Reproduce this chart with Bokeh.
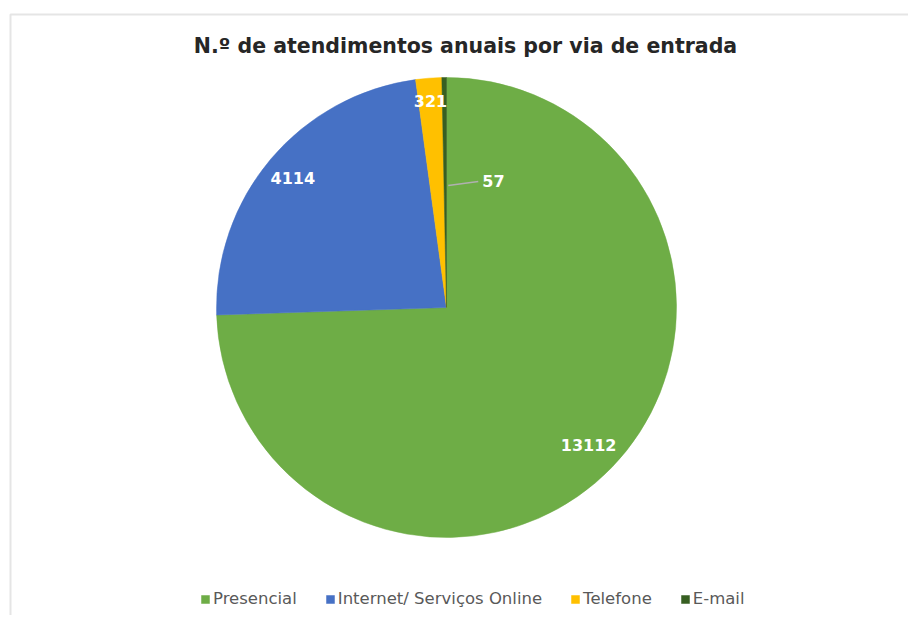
import numpy as np
from bokeh.plotting import figure
from bokeh.models import Range1d, Legend, LegendItem, Label, BoxAnnotation
from bokeh.embed import file_html
from bokeh.resources import INLINE

# ---- data ----
categories = ["Presencial", "Internet/ Serviços Online", "Telefone", "E-mail"]
values = [13112, 4114, 321, 57]
colors = ["#6EAD46", "#4671C5", "#FFC000", "#375F22"]
title_text = "N.º de atendimentos anuais por via de entrada"

# ---- layout (1 data unit == 1 screen pixel, y measured upward) ----
W, H = 908, 615
p = figure(width=W, height=H, x_range=Range1d(0, W), y_range=Range1d(0, H),
           output_backend="svg", toolbar_location=None,
           x_axis_type=None, y_axis_type=None, min_border=0)
p.grid.visible = False
p.outline_line_color = None
p.background_fill_color = "white"
p.border_fill_color = "white"

# chart border (light grey frame, open on right/bottom)
p.add_layout(BoxAnnotation(left=10, right=3000, top=H - 14, bottom=-3000,
                           fill_alpha=0, line_color="#A9A9A9", line_width=2))

cx, cy, r = 446, H - 307, 230
total = float(sum(values))
fracs = np.array(values) / total
cum = np.concatenate([[0.0], np.cumsum(fracs)])
starts = np.pi / 2 - 2 * np.pi * cum[:-1]
ends = np.pi / 2 - 2 * np.pi * cum[1:]

renderers = []
for cat, s, e, c in zip(categories, starts, ends, colors):
    rr = p.wedge(x=cx, y=cy, radius=r, start_angle=s, end_angle=e,
                 direction="clock", fill_color=c, line_color=c, line_width=0.5)
    renderers.append(rr)

# data labels
mids = (starts + ends) / 2
label_k = [0.86, 0.875, 0.90]
for i in range(3):
    lx = cx + label_k[i] * r * np.cos(mids[i])
    ly = cy + label_k[i] * r * np.sin(mids[i])
    p.add_layout(Label(x=lx, y=ly, text=str(values[i]), text_align="center",
                       text_baseline="middle", text_font="DejaVu Sans",
                       text_font_style="bold", text_font_size="16px",
                       text_color="white"))

# E-mail label with leader line
m = mids[3]
x0 = cx + 0.53 * r * np.cos(m) + 3
y0 = cy + 0.53 * r * np.sin(m)
p.line(x=[x0, x0 + 30], y=[y0, y0 + 4], line_color="#B0B0B0", line_width=1.5)
p.add_layout(Label(x=x0 + 34, y=y0 + 5, text=str(values[3]), text_align="left",
                   text_baseline="middle", text_font="DejaVu Sans",
                   text_font_style="bold", text_font_size="16px",
                   text_color="white"))

# title
p.add_layout(Label(x=465, y=H - 45, text=title_text, text_align="center",
                   text_baseline="middle", text_font="DejaVu Sans",
                   text_font_style="bold", text_font_size="20.5px",
                   text_color="#262626"))

# legend
legend = Legend(items=[LegendItem(label=c, renderers=[rr]) for c, rr in zip(categories, renderers)],
                orientation="horizontal", location=(200, 7),
                glyph_width=10, glyph_height=10, label_standoff=3, spacing=28,
                padding=0, margin=0, border_line_color=None,
                background_fill_alpha=0, label_text_font="DejaVu Sans",
                label_text_font_size="16.5px", label_text_color="#595959",
                label_height=16)
p.add_layout(legend)

open("out.html", "w").write(file_html(p, INLINE))
